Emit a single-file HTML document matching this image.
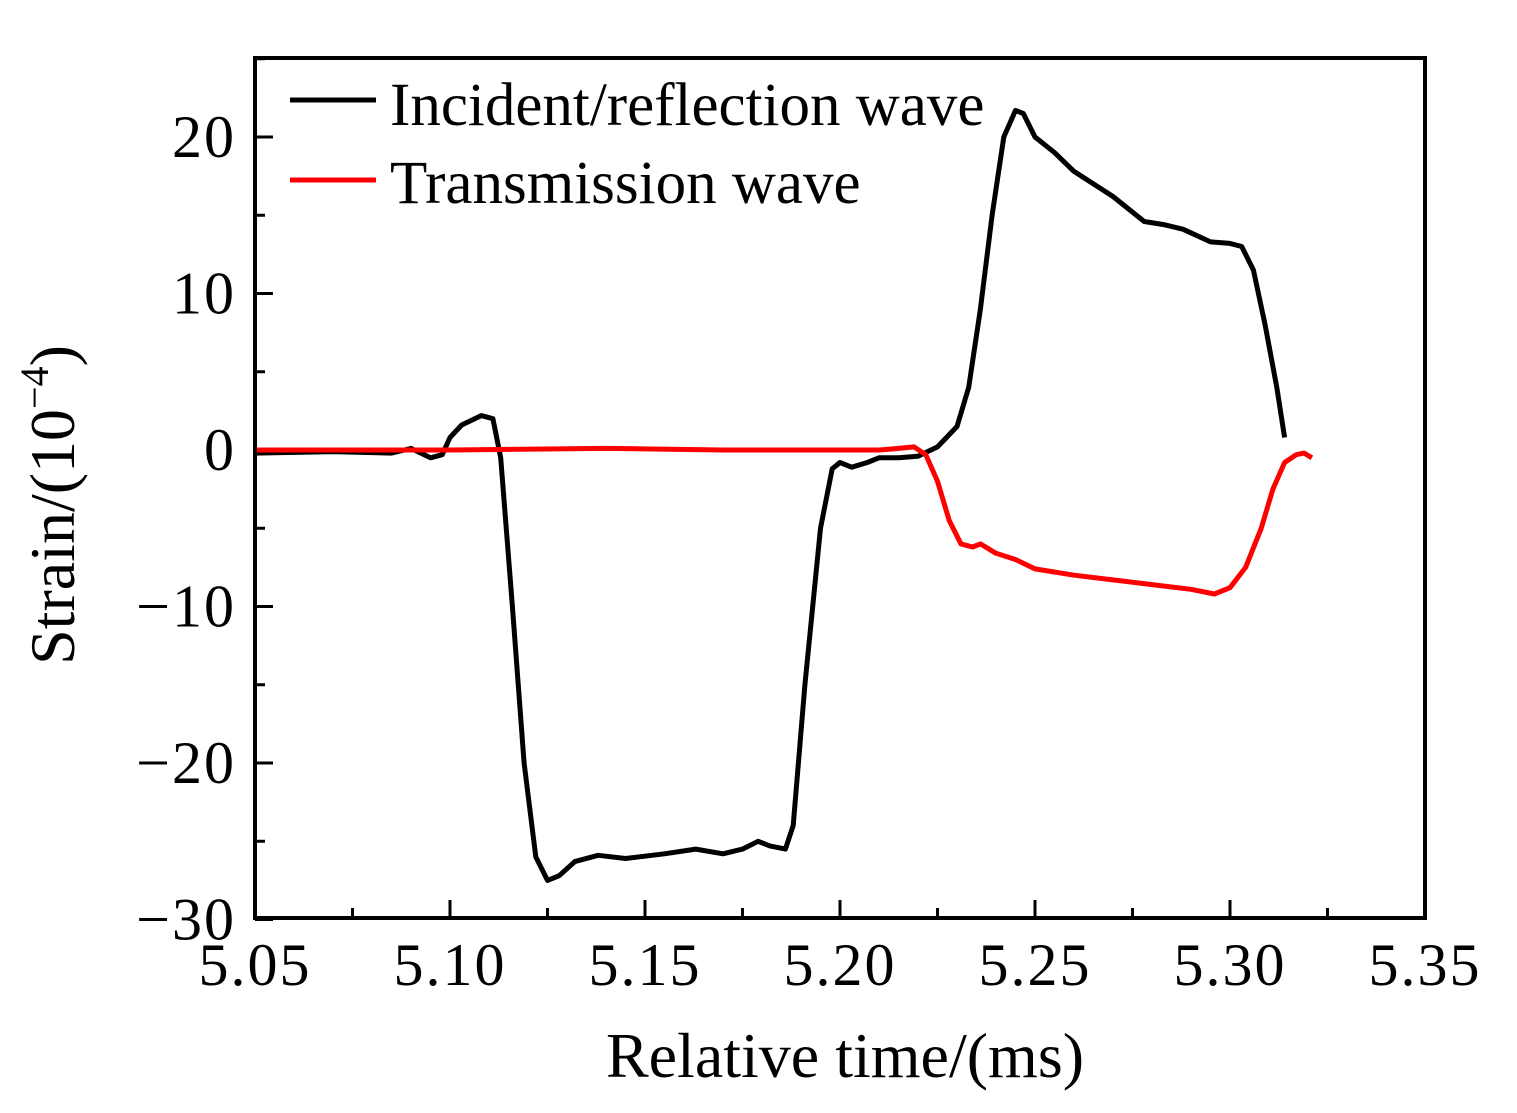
<!DOCTYPE html>
<html><head><meta charset="utf-8"><style>
html,body{margin:0;padding:0;background:#fff}
svg{display:block;font-family:"Liberation Serif",serif}
</style></head><body>
<svg id="chart" width="1517" height="1113" viewBox="0 0 1517 1113">
<g id="axes"></g>
<g id="series"></g>
<rect x="255" y="58" width="1170" height="860" fill="none" stroke="#000" stroke-width="4"/>
<g>
<line x1="290" y1="100" x2="376" y2="100" stroke="#000" stroke-width="5"/>
<text x="390" y="125" font-size="61">Incident/reflection wave</text>
<line x1="290" y1="180" x2="376" y2="180" stroke="#f00" stroke-width="5"/>
<text x="390" y="203" font-size="61">Transmission wave</text>
</g>
<text x="845" y="1077" font-size="64" text-anchor="middle">Relative time/(ms)</text>
<text transform="translate(74,505) rotate(-90)" font-size="64" text-anchor="middle">Strain/(10<tspan dy="-26" font-size="40">−4</tspan><tspan dy="26">)</tspan></text>
</svg>
<script>
const xTicks=[5.05,5.10,5.15,5.20,5.25,5.30,5.35];
const xTickLabels=["5.05","5.10","5.15","5.20","5.25","5.30","5.35"];
const yTicks=[-30,-20,-10,0,10,20];
const yTickLabels=["−30","−20","−10","0","10","20"];
const incT=[5.05,5.07,5.085,5.09,5.095,5.098,5.10,5.103,5.108,5.111,5.113,5.116,5.119,5.122,5.125,5.128,5.132,5.138,5.145,5.155,5.163,5.17,5.175,5.179,5.182,5.186,5.188,5.191,5.195,5.198,5.20,5.203,5.207,5.21,5.215,5.22,5.225,5.23,5.233,5.236,5.239,5.242,5.245,5.247,5.25,5.255,5.26,5.27,5.278,5.283,5.288,5.295,5.30,5.303,5.306,5.309,5.312,5.314];
const incV=[-0.2,-0.1,-0.2,0.1,-0.5,-0.3,0.8,1.6,2.2,2.0,-0.5,-10,-20,-26,-27.5,-27.2,-26.3,-25.9,-26.1,-25.8,-25.5,-25.8,-25.5,-25,-25.3,-25.5,-24,-15,-5,-1.2,-0.8,-1.1,-0.8,-0.5,-0.5,-0.4,0.2,1.5,4,9,15,20,21.7,21.5,20,19,17.8,16.2,14.6,14.4,14.1,13.3,13.2,13.0,11.5,8,4,0.8];
const trT=[5.05,5.10,5.14,5.17,5.21,5.215,5.219,5.222,5.225,5.228,5.231,5.234,5.236,5.24,5.245,5.25,5.26,5.27,5.28,5.29,5.296,5.30,5.304,5.308,5.311,5.314,5.317,5.319,5.321];
const trV=[0,0,0.1,0,0,0.1,0.2,-0.3,-2,-4.5,-6,-6.2,-6.0,-6.6,-7,-7.6,-8.0,-8.3,-8.6,-8.9,-9.2,-8.8,-7.5,-5,-2.5,-0.8,-0.3,-0.2,-0.5];
const X=t=>255+(t-5.05)/0.3*1170;
const Y=v=>450-v*15.65;
const NS="http://www.w3.org/2000/svg";
const axes=document.getElementById('axes'),series=document.getElementById('series');
function mk(tag,attrs,parent){const e=document.createElementNS(NS,tag);for(const k in attrs)e.setAttribute(k,attrs[k]);parent.appendChild(e);return e;}
for(let i=0;i<xTicks.length;i++){
 const x=X(xTicks[i]);
 const l=mk('line',{x1:x,x2:x,y1:918,y2:900,stroke:'#000','stroke-width':3},axes);
 
 
 if(i<xTicks.length-1){const m=X(xTicks[i]+0.025);const ml=mk('line',{x1:m,x2:m,y1:918,y2:908,stroke:'#000','stroke-width':3},axes);
 
 }
 const t=mk('text',{x:x,y:985,'font-size':60,'letter-spacing':2,'text-anchor':'middle'},axes);t.textContent=xTickLabels[i];
 
 
}
for(let i=0;i<yTicks.length;i++){
 const y=Y(yTicks[i]);
 const l=mk('line',{x1:255,x2:273,y1:y,y2:y,stroke:'#000','stroke-width':3},axes);
 
 
 const t=mk('text',{x:236,y:y+20,'font-size':60,'letter-spacing':2,'text-anchor':'end'},axes);t.textContent=yTickLabels[i];
 
 
}
for(let v=-25;v<=25;v+=5){if(v%10===0)continue;const y=Y(v);
 const ml=mk('line',{x1:255,x2:265,y1:y,y2:y,stroke:'#000','stroke-width':3},axes);
 
 }
function pts(T,V){return T.map((t,i)=>X(t).toFixed(1)+','+Y(V[i]).toFixed(1)).join(' ');}
const p1=mk('polyline',{points:pts(incT,incV),fill:'none',stroke:'#000','stroke-width':5,'stroke-linejoin':'round'},series);


const p2=mk('polyline',{points:pts(trT,trV),fill:'none',stroke:'#f00','stroke-width':5,'stroke-linejoin':'round'},series);


</script>
</body></html>
